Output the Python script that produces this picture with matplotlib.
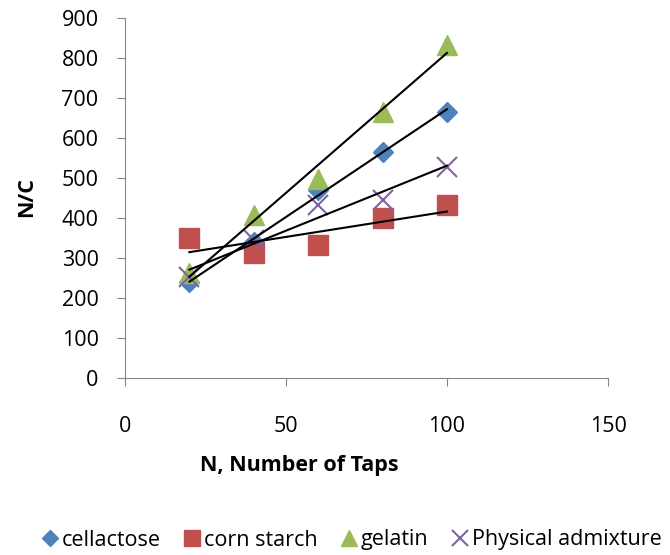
import numpy as np
import matplotlib
matplotlib.use("Agg")
import matplotlib.pyplot as plt

plt.rcParams['font.family'] = ['Open Sans', 'DejaVu Sans']

# number of taps
taps = [20, 40, 60, 80, 100]

# N/C values
cellactose = [240, 340, 470, 566, 666]
corn_starch = [350, 312, 332, 400, 433]
gelatin = [262, 407, 497, 666, 832]
physical_admixture = [253, 345, 433, 445, 528]

series = [
    ("cellactose", cellactose, "D", "#4F81BD", 10),
    ("corn starch", corn_starch, "s", "#C0504D", 14),
    ("gelatin", gelatin, "^", "#9BBB59", 14),
    ("Physical admixture", physical_admixture, "x", "#8064A2", 14),
]

fig = plt.figure(figsize=(6.7, 5.55), dpi=100)
W, H = 670, 555
# plot area in pixels: x 125..608, y 18..378
ax = fig.add_axes([125 / W, 1 - 378 / H, (608 - 125) / W, (378 - 18) / H])

x = np.array(taps)
for name, vals, mk, col, ms in series:
    if mk == "x":
        ax.plot(taps, vals, linestyle="none", marker=mk, color=col, markersize=ms,
                markeredgewidth=1.5, label=name)
    else:
        ax.plot(taps, vals, linestyle="none", marker=mk, color=col, markersize=ms, label=name)

# linear trendlines
for name, vals, mk, col, ms in series:
    k, b = np.polyfit(x, vals, 1)
    ax.plot(x[[0, -1]], k * x[[0, -1]] + b, color="black", linewidth=1.5, zorder=5)

ax.set_xlim(0, 150)
ax.set_ylim(0, 900)
ax.set_xticks([0, 50, 100, 150])
ax.set_yticks(range(0, 901, 100))
ax.spines["top"].set_visible(False)
ax.spines["right"].set_visible(False)
ax.spines["left"].set_color("#868686")
ax.spines["bottom"].set_color("#868686")
ax.tick_params(labelsize=15.5, color="#868686", length=6)
ax.tick_params(axis="x", pad=21)
ax.tick_params(axis="y", pad=13)

ax.set_xlabel("N, Number of Taps", fontsize=15.5, fontweight="bold")
ax.set_ylabel("N/C", fontsize=15.5, fontweight="bold")
ax.xaxis.set_label_coords((299 - 125) / 483, (378 - 465) / 360)
ax.xaxis.label.set_va("center")
ax.yaxis.set_label_coords((27 - 125) / 483, (378 - 197) / 360)
ax.yaxis.label.set_va("center")

fig.legend(loc="center", bbox_to_anchor=(351 / W, 1 - 540 / H), ncol=4, frameon=False,
           fontsize=15.5, handletextpad=0.1, columnspacing=1.0, handlelength=0.9,
           markerscale=0.8, borderaxespad=0)

fig.savefig("out.png", dpi=100)
